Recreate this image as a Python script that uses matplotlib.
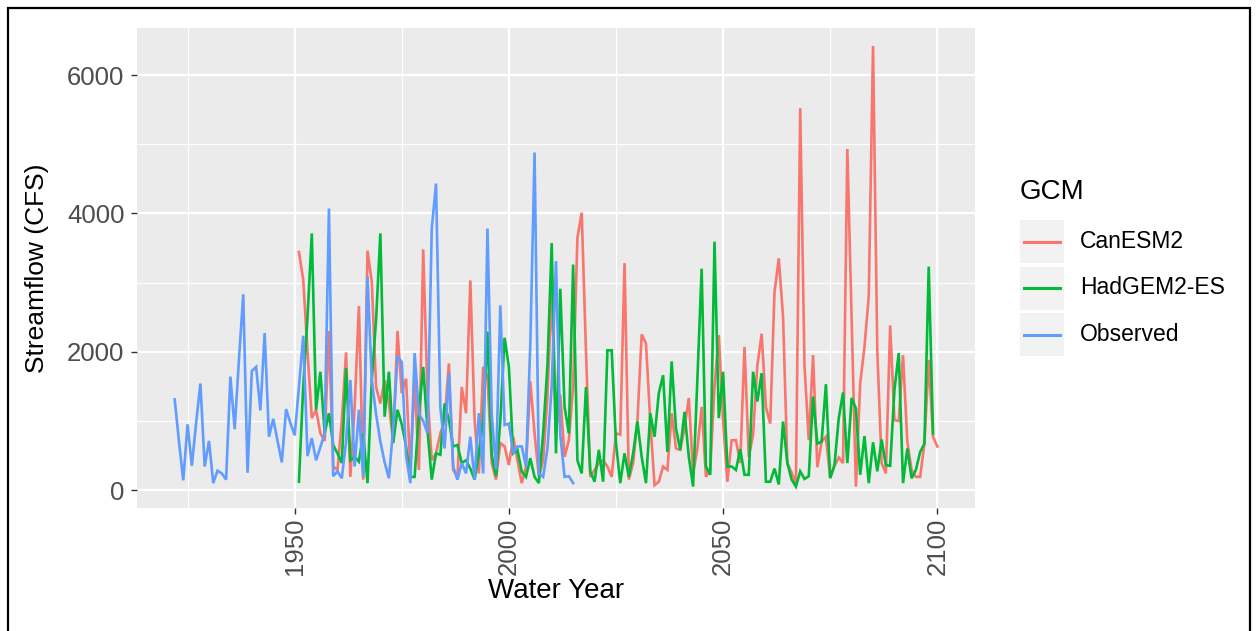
import numpy as np
import matplotlib
matplotlib.use("Agg")
import matplotlib.pyplot as plt
from matplotlib.lines import Line2D
from matplotlib.patches import Rectangle
from matplotlib.ticker import MultipleLocator

plt.rcParams["font.family"] = ["Liberation Sans", "DejaVu Sans"]

# Annual streamflow (CFS) by water year
can_start = 1951
canesm2 = [
    3440, 3040, 2000, 1040, 1160, 820, 710, 2300, 340, 290,
    1000, 1990, 190, 1200, 2660, 150, 3460, 3010, 1490, 1250,
    1590, 1250, 680, 2300, 1400, 1610, 290, 1590, 290, 3480,
    1400, 430, 530, 820, 1000, 1830, 290, 190, 1490, 1110,
    3030, 1010, 240, 1780, 1640, 390, 150, 680, 630, 360,
    770, 430, 100, 340, 1570, 820, 190, 430, 1350, 2900,
    820, 1380, 480, 720, 1500, 3650, 4010, 2000, 190, 290,
    390, 430, 340, 190, 820, 800, 3280, 150, 390, 1000,
    2250, 2120, 1000, 70, 120, 340, 290, 1110, 600, 580,
    900, 1330, 240, 600, 1200, 190, 300, 1500, 2240, 1000,
    120, 720, 720, 390, 2070, 480, 800, 1800, 2260, 1200,
    960, 2860, 3350, 2500, 390, 250, 100, 5520, 1800, 720,
    1950, 330, 700, 770, 180, 350, 470, 390, 4930, 2500,
    50, 1540, 2070, 2800, 6420, 2000, 390, 240, 2380, 1010,
    1000, 1950, 700, 290, 190, 190, 680, 1880, 770, 630,
]

had_start = 1951
hadgem2 = [
    120, 1500, 2500, 3710, 1160, 1710, 820, 1110, 650, 530,
    390, 1760, 430, 480, 410, 820, 100, 1590, 2460, 3710,
    1060, 1710, 680, 1160, 950, 630, 190, 190, 1110, 1780,
    870, 150, 530, 510, 1250, 1010, 630, 650, 390, 430,
    310, 150, 530, 1000, 2290, 500, 200, 1000, 2200, 1780,
    530, 580, 270, 190, 460, 190, 100, 820, 1800, 3570,
    530, 2910, 1200, 820, 3260, 430, 240, 1490, 270, 120,
    580, 120, 2020, 2020, 680, 100, 530, 190, 530, 990,
    480, 100, 1110, 770, 1400, 1660, 550, 1860, 890, 580,
    1130, 480, 50, 1600, 3200, 340, 220, 3590, 1040, 1710,
    340, 340, 290, 590, 220, 220, 1710, 1280, 1690, 120,
    120, 310, 80, 990, 390, 150, 50, 270, 160, 200,
    1350, 670, 700, 1530, 170, 360, 1040, 1410, 390, 1330,
    1180, 220, 780, 100, 690, 270, 730, 360, 350, 1450,
    1980, 100, 600, 170, 290, 550, 670, 3230, 820,
]

obs_start = 1922
observed = [
    1310, 700, 140, 950, 350, 970, 1540, 340, 710, 100,
    280, 240, 150, 1640, 880, 1890, 2830, 250, 1720, 1780,
    1150, 2270, 770, 1030, 710, 400, 1170, 970, 790, 1490,
    2230, 490, 750, 430, 620, 820, 4070, 200, 270, 170,
    700, 1590, 340, 1160, 190, 3090, 1590, 1100, 700, 400,
    170, 900, 1930, 1850, 500, 100, 1980, 1100, 1000, 820,
    3780, 4430, 1200, 600, 1690, 340, 150, 390, 240, 770,
    150, 1110, 240, 3780, 1100, 300, 2670, 940, 960, 530,
    630, 630, 340, 2100, 4880, 240, 190, 600, 1500, 3310,
    800, 190, 200, 100,
]

labels = ["CanESM2", "HadGEM2-ES", "Observed"]
colors = ["#F8766D", "#00BA38", "#619CFF"]
series = [(can_start, canesm2), (had_start, hadgem2), (obs_start, observed)]

W, H = 1257, 631
fig = plt.figure(figsize=(W / 100, H / 100), dpi=100)
fig.patch.set_facecolor("white")

# panel placed in pixel terms (left, bottom, width, height)
ax = fig.add_axes([137 / W, (H - 508) / H, (975 - 137) / W, (508 - 28) / H])
ax.set_facecolor("#EBEBEB")

for (start, vals), c in zip(series, colors):
    yrs = np.arange(start, start + len(vals))
    ax.plot(yrs, vals, color=c, lw=1.9, solid_joinstyle="miter", zorder=3)

ax.set_xlim(1913.2, 2108.8)
ax.set_ylim(-260, 6680)
ax.xaxis.set_major_locator(MultipleLocator(50))
ax.xaxis.set_minor_locator(MultipleLocator(25))
ax.yaxis.set_major_locator(MultipleLocator(2000))
ax.yaxis.set_minor_locator(MultipleLocator(1000))
ax.grid(which="major", color="white", lw=1.6, zorder=1)
ax.grid(which="minor", color="white", lw=0.8, zorder=1)
ax.set_axisbelow(True)
for s in ax.spines.values():
    s.set_visible(False)

ax.tick_params(which="major", length=4, width=1, color="#333333",
               labelsize=18.5, labelcolor="#4D4D4D")
ax.tick_params(which="minor", length=0)
ax.tick_params(axis="y", pad=5)
ax.tick_params(axis="x", labelrotation=90, pad=3)
for t in ax.get_xticklabels():
    t.set_ha("center")
    t.set_va("top")
ax.set_xlabel("Water Year", fontsize=20, color="black", labelpad=2)
ax.set_ylabel("Streamflow (CFS)", fontsize=19, color="black")
ax.yaxis.set_label_coords(37 / W, 0.5, transform=fig.transFigure)
ax.yaxis.label.set_va("center")
ax.yaxis.label.set_y((H - 268) / H)

# legend drawn by hand so the keys get the grey ggplot boxes
fig.text(1020 / W, 1 - 192 / H, "GCM", fontsize=20, ha="left", va="center")
for i, (lab, c) in enumerate(zip(labels, colors)):
    top = 220 + i * 46.5
    fig.patches.append(Rectangle((1020 / W, 1 - (top + 43) / H), 44 / W, 43 / H,
                                 transform=fig.transFigure, facecolor="#F2F2F2",
                                 edgecolor="none"))
    yc = 1 - (top + 21.5) / H
    fig.lines.append(Line2D([1024 / W, 1060 / W], [yc, yc], transform=fig.transFigure,
                            color=c, lw=2.2))
    fig.text(1080 / W, yc, lab, fontsize=16.5, ha="left", va="center")

# thin black frame around the whole figure
fig.patches.append(Rectangle((8 / W, -0.02), (1250 - 8) / W, 1 - 8 / H + 0.02,
                             transform=fig.transFigure, facecolor="none",
                             edgecolor="black", lw=1.6))

fig.savefig("out.png", dpi=100)
